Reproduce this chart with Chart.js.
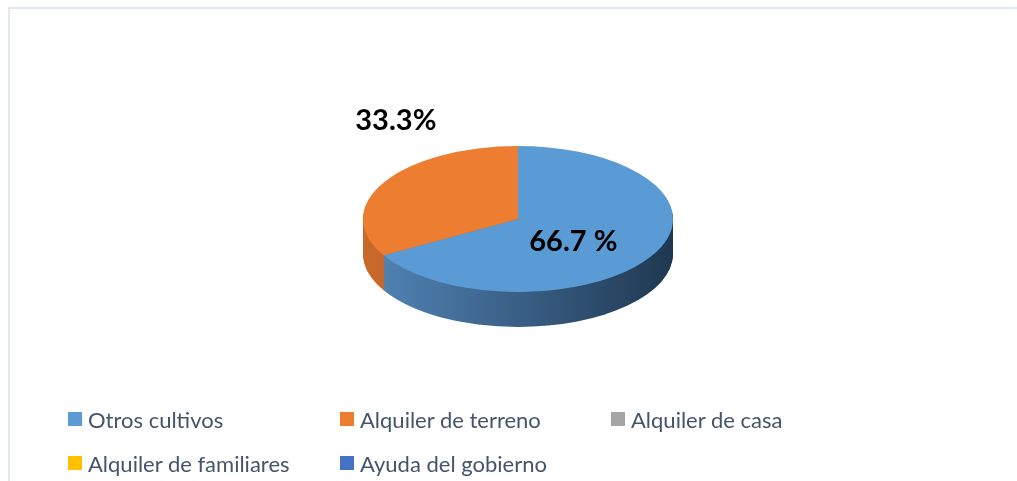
<!DOCTYPE html>
<html>
<head>
<meta charset="utf-8">
<script src="https://cdn.jsdelivr.net/npm/chart.js@4.4.1/dist/chart.umd.min.js"></script>
<style>
  body { margin: 0; background: #fff; width: 1017px; height: 481px; overflow: hidden; position: relative; }
  #frame { position: absolute; left: 8px; top: 7px; right: 0; bottom: 0; border-top: 2px solid #e3e7ee; border-left: 2px solid #e3e7ee; }
  #chart { position: absolute; left: 0; top: 0; }
  #legend { position: absolute; left: 68px; top: 407px; display: grid; grid-template-columns: 272px 271px 272px; row-gap: 20px;
            font-family: Lato, "Open Sans", sans-serif; font-size: 22px; color: #44546a; }
  #legend div { display: flex; align-items: center; height: 24px; white-space: nowrap; }
  #legend span.box { width: 14px; height: 14px; margin-right: 6px; display: inline-block; }
</style>
</head>
<body>
<div id="frame"></div>
<canvas id="chart" width="1017" height="481"></canvas>
<div id="legend"></div>
<script>
// data
const categories = ["Otros cultivos", "Alquiler de terreno", "Alquiler de casa", "Alquiler de familiares", "Ayuda del gobierno"];
const values = [66.7, 33.3, 0, 0, 0];
const valueLabels = ["66.7 %", "33.3%", "", "", ""];
const colors = ["#5b9bd5", "#ed7d31", "#a5a5a5", "#ffc000", "#4472c4"];
const sideColors = [["#5286b8", "#3a5f86", "#1f3850"], ["#c8692b", "#c0622a", "#b35a26"], ["#888", "#888", "#888"], ["#d9a300", "#d9a300", "#d9a300"], ["#3a60a6", "#3a60a6", "#3a60a6"]];

// flatten + extrude (3d look)
const tilt = 73 / 155;
const depth = 35;

const pie3d = {
  id: "pie3d",
  beforeDatasetsDraw(chart) {
    const ctx = chart.ctx;
    const arcs = chart.getDatasetMeta(0).data;
    if (!arcs.length) return;
    const cx = arcs[0].x, cy = arcs[0].y, r = arcs[0].outerRadius;
    ctx.save();
    ctx.translate(cx, cy);
    ctx.scale(1, tilt);
    ctx.translate(-cx, -cy);

    const fills = sideColors.map(c => {
      const g = ctx.createLinearGradient(cx - r, 0, cx + r, 0);
      g.addColorStop(0, c[0]);
      g.addColorStop(0.5, c[1]);
      g.addColorStop(1, c[2]);
      return g;
    });
    for (let d = depth; d >= 1; d--) {
      const off = d / tilt;
      arcs.forEach((a, i) => {
        if (a.endAngle - a.startAngle <= 0) return;
        ctx.beginPath();
        ctx.moveTo(a.x, a.y + off);
        ctx.arc(a.x, a.y + off, a.outerRadius, a.startAngle, a.endAngle);
        ctx.closePath();
        ctx.fillStyle = fills[i];
        ctx.fill();
      });
    }
  },
  afterDatasetsDraw(chart) {
    chart.ctx.restore();
  }
};

const sliceLabels = {
  id: "sliceLabels",
  afterDraw(chart, args, opts) {
    const ctx = chart.ctx;
    const arcs = chart.getDatasetMeta(0).data;
    ctx.save();
    ctx.font = "bold 29px Lato, 'Open Sans', sans-serif";
    ctx.fillStyle = "#000";
    ctx.textAlign = "center";
    ctx.textBaseline = "middle";
    arcs.forEach((a, i) => {
      if (!valueLabels[i]) return;
      const p = opts.place[i];
      const mid = (a.startAngle + a.endAngle) / 2;
      const x = a.x + Math.cos(mid) * a.outerRadius * p.f + p.dx;
      const y = a.y + Math.sin(mid) * a.outerRadius * p.f * tilt + p.dy;
      ctx.fillText(valueLabels[i], x, y);
    });
    ctx.restore();
  }
};

new Chart(document.getElementById("chart"), {
  type: "pie",
  data: {
    labels: categories,
    datasets: [{ data: values, backgroundColor: colors, borderWidth: 0, hoverOffset: 0, offset: 0 }]
  },
  options: {
    responsive: false,
    animation: false,
    events: [],
    layout: { padding: { left: 363, right: 344, top: 64, bottom: 107 } },
    plugins: {
      legend: { display: false },
      tooltip: { enabled: false },
      sliceLabels: { place: [{ f: 0.45, dx: -5, dy: 6 }, { f: 1.0, dx: 12, dy: -62 }] }
    }
  },
  plugins: [pie3d, sliceLabels]
});

// legend
const legendEl = document.getElementById("legend");
categories.forEach((c, i) => {
  const item = document.createElement("div");
  item.innerHTML = `<span class="box" style="background:${colors[i]}"></span>${c}`;
  legendEl.appendChild(item);
});
</script>
</body>
</html>
